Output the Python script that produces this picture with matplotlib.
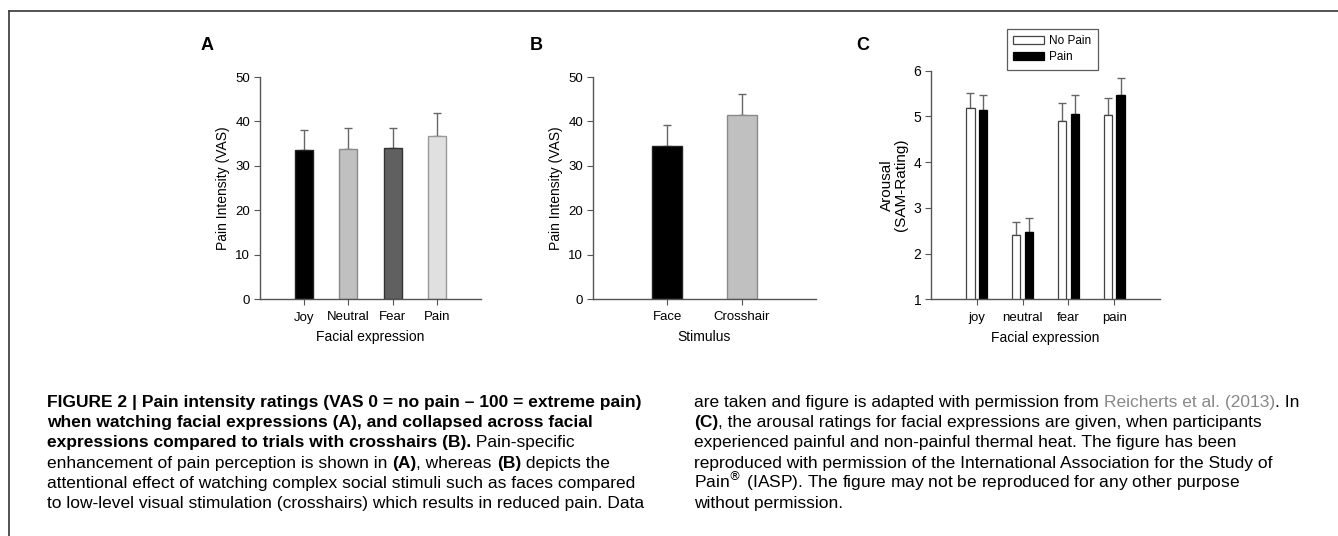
import matplotlib
matplotlib.use("Agg")
import matplotlib.pyplot as plt
from matplotlib.lines import Line2D

plt.rcParams['font.family'] = ['Liberation Sans', 'DejaVu Sans']

# Panel A: pain intensity per facial expression
expr_a = ['Joy', 'Neutral', 'Fear', 'Pain']
mean_a = [33.6, 33.7, 33.9, 36.8]
err_a = [4.4, 4.8, 4.6, 5.0]
col_a = ['#000000', '#c0c0c0', '#606060', '#e0e0e0']

# Panel B: faces vs crosshair
stim_b = ['Face', 'Crosshair']
mean_b = [34.5, 41.4]
err_b = [4.6, 4.8]
col_b = ['#000000', '#c0c0c0']

# Panel C: arousal ratings, no pain vs pain
expr_c = ['joy', 'neutral', 'fear', 'pain']
nopain_c = [5.18, 2.40, 4.89, 5.04]
nopain_err = [0.33, 0.28, 0.41, 0.37]
pain_c = [5.14, 2.47, 5.05, 5.47]
pain_err = [0.32, 0.31, 0.41, 0.37]

W, H = 1338, 536
fig = plt.figure(figsize=(W / 100, H / 100), dpi=100)

def px(x0, y0, x1, y1):
    return [x0 / W, 1 - y1 / H, (x1 - x0) / W, (y1 - y0) / H]

spine_col = '#555555'
ecol = '#666666'
lab_fs = 10

def style(ax):
    for s in ['top', 'right']:
        ax.spines[s].set_visible(False)
    for s in ['left', 'bottom']:
        ax.spines[s].set_color(spine_col)
        ax.spines[s].set_linewidth(1.0)
    ax.tick_params(direction='out', length=4, width=0.8, color=spine_col,
                   labelsize=9.5, pad=3)
    ax.tick_params(axis='x', pad=5)
    ax.xaxis.labelpad = 5

# A
axA = fig.add_axes(px(260, 77, 481, 299))
pos = range(1, len(expr_a) + 1)
axA.bar(pos, mean_a, width=0.41, color=col_a, edgecolor=['#222222', '#8a8a8a', '#333333', '#999999'],
        linewidth=1.0, zorder=2)
axA.errorbar(pos, mean_a, yerr=[[0] * 4, err_a], fmt='none', ecolor=ecol,
             elinewidth=1.0, capsize=3, capthick=1.0, zorder=1)
axA.set_xlim(0, 5)
axA.set_ylim(0, 50)
axA.set_yticks(range(0, 51, 10))
axA.set_xticks(list(pos))
axA.set_xticklabels(expr_a)
axA.set_ylabel('Pain Intensity (VAS)', fontsize=lab_fs)
axA.set_xlabel('Facial expression', fontsize=lab_fs)
style(axA)

# B
axB = fig.add_axes(px(593, 77, 816, 299))
pos = range(1, len(stim_b) + 1)
axB.bar(pos, mean_b, width=0.4, color=col_b, edgecolor=['#222222', '#8a8a8a'],
        linewidth=1.0, zorder=2)
axB.errorbar(pos, mean_b, yerr=[[0] * 2, err_b], fmt='none', ecolor=ecol,
             elinewidth=1.0, capsize=3, capthick=1.0, zorder=1)
axB.set_xlim(0, 3)
axB.set_ylim(0, 50)
axB.set_yticks(range(0, 51, 10))
axB.set_xticks(list(pos))
axB.set_xticklabels(stim_b)
axB.set_ylabel('Pain Intensity (VAS)', fontsize=lab_fs)
axB.set_xlabel('Stimulus', fontsize=lab_fs)
style(axB)

# C
axC = fig.add_axes(px(931, 70.7, 1160, 299.3))
pos = [1, 2, 3, 4]
off = 0.14
bw = 0.18
axC.bar([p - off for p in pos], nopain_c, width=bw, color='white', edgecolor='#444444',
        linewidth=0.9, zorder=2, label='No Pain')
axC.bar([p + off for p in pos], pain_c, width=bw, color='black', edgecolor='black',
        linewidth=0.9, zorder=2, label='Pain')
axC.errorbar([p - off for p in pos], nopain_c, yerr=[[0] * 4, nopain_err], fmt='none',
             ecolor=ecol, elinewidth=1.0, capsize=3, capthick=1.0, zorder=1)
axC.errorbar([p + off for p in pos], pain_c, yerr=[[0] * 4, pain_err], fmt='none',
             ecolor=ecol, elinewidth=1.0, capsize=3, capthick=1.0, zorder=1)
axC.set_xlim(0, 5)
axC.set_ylim(1, 6)
axC.set_yticks(range(1, 7))
axC.set_xticks(pos)
axC.set_xticklabels(expr_c)
axC.set_ylabel('Arousal\n(SAM-Rating)', fontsize=11, linespacing=0.95)
axC.set_xlabel('Facial expression', fontsize=lab_fs)
style(axC)
axC.tick_params(axis='y', labelsize=10)
leg = axC.legend(loc='upper left', bbox_to_anchor=((1007 - 931) / 229, 1 + (70.7 - 29) / 228.6),
                 fontsize=8.5, frameon=True, fancybox=False, edgecolor='#333333',
                 handlelength=2.6, handleheight=0.7, borderpad=0.55, labelspacing=0.3,
                 handletextpad=0.4, borderaxespad=0)
leg.get_frame().set_linewidth(0.9)

# panel letters
for x, lab in [(207, 'A'), (536, 'B'), (863, 'C')]:
    fig.text(x / W, 1 - 45 / H, lab, fontsize=13, fontweight='bold', ha='center', va='center')

# frame lines
fig.add_artist(Line2D([9 / W, 1], [1 - 11 / H, 1 - 11 / H], color='#444444', lw=1.3))
fig.add_artist(Line2D([9 / W, 9 / W], [0, 1 - 11 / H], color='#444444', lw=1.3))

# caption
cap_font = ['Liberation Sans', 'DejaVu Sans']
fs = 12.5
lh = 20.2
left_lines = [
    [('FIGURE 2 | Pain intensity ratings (VAS 0 = no pain – 100 = extreme pain)', 'bold', 'k')],
    [('when watching facial expressions (A), and collapsed across facial', 'bold', 'k')],
    [('expressions compared to trials with crosshairs (B).', 'bold', 'k'), (' Pain-specific', 'normal', 'k')],
    [('enhancement of pain perception is shown in ', 'normal', 'k'), ('(A)', 'bold', 'k'),
     (', whereas ', 'normal', 'k'), ('(B)', 'bold', 'k'), (' depicts the', 'normal', 'k')],
    [('attentional effect of watching complex social stimuli such as faces compared', 'normal', 'k')],
    [('to low-level visual stimulation (crosshairs) which results in reduced pain. Data', 'normal', 'k')],
]
right_lines = [
    [('are taken and figure is adapted with permission from ', 'normal', 'k'),
     ('Reicherts et al. (2013)', 'normal', '#888888'), ('. In', 'normal', 'k')],
    [('(C)', 'bold', 'k'), (', the arousal ratings for facial expressions are given, when participants', 'normal', 'k')],
    [('experienced painful and non-painful thermal heat. The figure has been', 'normal', 'k')],
    [('reproduced with permission of the International Association for the Study of', 'normal', 'k')],
    [('Pain$^{®}$ (IASP). The figure may not be reproduced for any other purpose', 'normal', 'k')],
    [('without permission.', 'normal', 'k')],
]

fig.canvas.draw()
renderer = fig.canvas.get_renderer()

def draw_lines(lines, x0, y0):
    for i, segs in enumerate(lines):
        x = x0
        y = y0 + i * lh
        for txt, wt, c in segs:
            t = fig.text(x / W, 1 - y / H, txt, fontsize=fs, fontweight=wt, color=c,
                         family=cap_font, ha='left', va='baseline')
            bb = t.get_window_extent(renderer)
            x += bb.width

draw_lines(left_lines, 47, 407)
draw_lines(right_lines, 694, 407)

fig.savefig('out.png', dpi=100)
